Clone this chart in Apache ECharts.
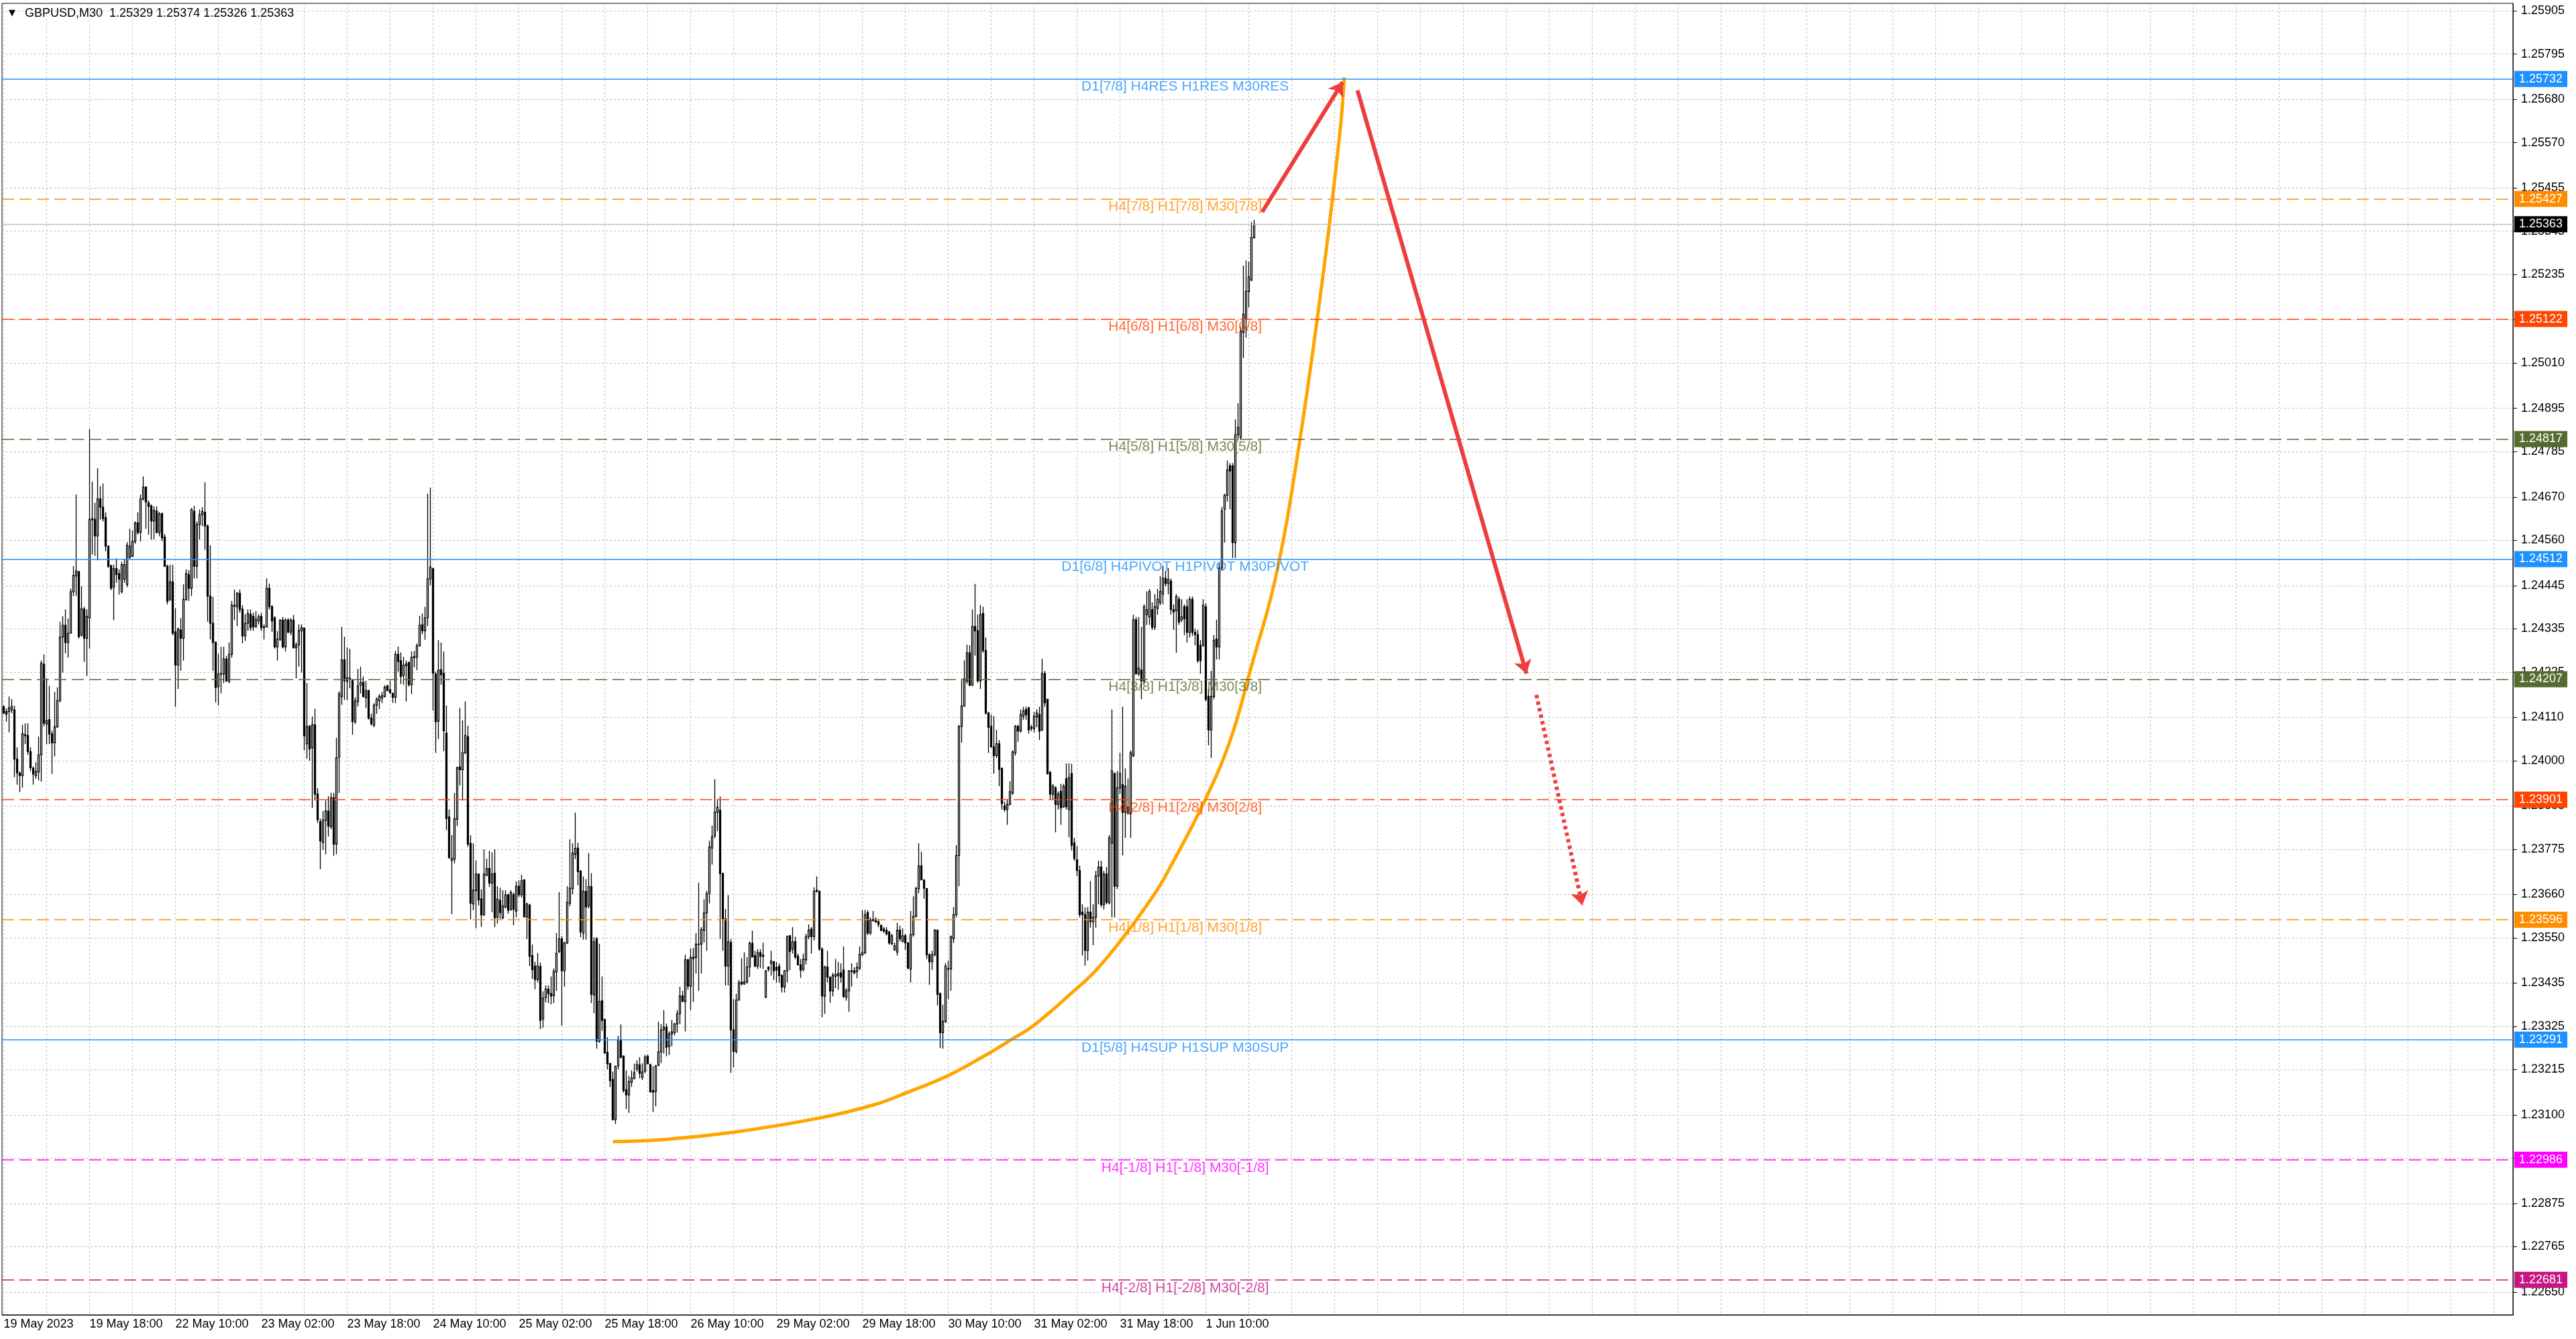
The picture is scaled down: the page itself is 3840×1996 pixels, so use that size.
<!DOCTYPE html>
<html><head><meta charset="utf-8">
<script src="https://cdn.jsdelivr.net/npm/echarts@6/dist/echarts.min.js"></script>
<style>html,body{margin:0;padding:0;background:#fff;overflow:hidden}#c{width:3840px;height:1996px}</style>
</head><body><div id="c"></div>
<script>
// ---- OHLC of GBPUSD M30, bar 0 = 19 May 2023 02:00 ----
const O=[1.24137,1.24125,1.24125,1.24129,1.24129,1.24004,1.23968,1.23962,1.24063,1.24064,
1.24023,1.23981,1.23962,1.23971,1.24015,1.24245,1.24093,1.24104,1.24068,1.24045,
1.24086,1.24153,1.24314,1.24344,1.24300,1.24324,1.24429,1.24469,1.24480,1.24319,
1.24385,1.24311,1.24363,1.24612,1.24613,1.24571,1.24665,1.24644,1.24618,1.24545,
1.24495,1.24441,1.24488,1.24475,1.24429,1.24461,1.24448,1.24517,1.24519,1.24557,
1.24604,1.24580,1.24665,1.24695,1.24655,1.24647,1.24609,1.24634,1.24580,1.24627,
1.24568,1.24494,1.24409,1.24454,1.24327,1.24243,1.24332,1.24311,1.24410,1.24473,
1.24438,1.24633,1.24494,1.24600,1.24625,1.24631,1.24596,1.24418,1.24349,1.24301,
1.24188,1.24220,1.24220,1.24258,1.24201,1.24270,1.24392,1.24391,1.24425,1.24385,
1.24317,1.24349,1.24372,1.24367,1.24340,1.24355,1.24367,1.24338,1.24340,1.24438,
1.24391,1.24363,1.24289,1.24308,1.24357,1.24289,1.24357,1.24327,1.24357,1.24287,
1.24294,1.24330,1.24337,1.24043,1.24087,1.24033,1.24091,1.23915,1.23845,1.23792,
1.23848,1.23872,1.23832,1.23906,1.23788,1.24009,1.24163,1.24256,1.24201,1.24209,
1.24203,1.24099,1.24150,1.24192,1.24199,1.24160,1.24178,1.24108,1.24090,1.24141,
1.24152,1.24159,1.24163,1.24190,1.24180,1.24171,1.24161,1.24270,1.24254,1.24216,
1.24241,1.24249,1.24193,1.24262,1.24263,1.24292,1.24345,1.24330,1.24363,1.24462,
1.24488,1.24220,1.24100,1.24231,1.24222,1.24070,1.23857,1.23746,1.23749,1.23851,
1.23984,1.23977,1.24020,1.24061,1.23790,1.23636,1.23670,1.23712,1.23649,1.23609,
1.23708,1.23726,1.23689,1.23714,1.23602,1.23645,1.23601,1.23628,1.23659,1.23622,
1.23660,1.23618,1.23681,1.23659,1.23697,1.23603,1.23633,1.23505,1.23478,1.23444,
1.23477,1.23344,1.23398,1.23419,1.23408,1.23403,1.23463,1.23515,1.23547,1.23466,
1.23537,1.23638,1.23675,1.23762,1.23778,1.23719,1.23562,1.23668,1.23631,1.23680,
1.23405,1.23547,1.23287,1.23390,1.23342,1.23259,1.23230,1.23190,1.23088,1.23225,
1.23290,1.23249,1.23164,1.23151,1.23183,1.23193,1.23217,1.23227,1.23195,1.23211,
1.23249,1.23228,1.23162,1.23159,1.23226,1.23260,1.23316,1.23323,1.23274,1.23306,
1.23309,1.23331,1.23357,1.23402,1.23388,1.23494,1.23427,1.23497,1.23500,1.23533,
1.23534,1.23569,1.23613,1.23663,1.23778,1.23809,1.23869,1.23874,1.23713,1.23598,
1.23478,1.23538,1.23316,1.23261,1.23392,1.23437,1.23433,1.23438,1.23476,1.23536,
1.23505,1.23478,1.23512,1.23503,1.23399,1.23475,1.23485,1.23489,1.23475,1.23477,
1.23454,1.23425,1.23466,1.23555,1.23521,1.23540,1.23503,1.23481,1.23470,1.23494,
1.23553,1.23572,1.23553,1.23671,1.23668,1.23521,1.23402,1.23476,1.23450,1.23415,
1.23452,1.23454,1.23461,1.23468,1.23399,1.23415,1.23464,1.23466,1.23464,1.23473,
1.23507,1.23512,1.23614,1.23562,1.23594,1.23597,1.23591,1.23581,1.23572,1.23569,
1.23565,1.23535,1.23519,1.23514,1.23569,1.23541,1.23555,1.23537,1.23470,1.23558,
1.23604,1.23675,1.23733,1.23696,1.23675,1.23507,1.23489,1.23507,1.23569,1.23408,
1.23309,1.23337,1.23470,1.23471,1.23548,1.23609,1.23759,1.24087,1.24139,1.24202,
1.24274,1.24192,1.24341,1.24330,1.24203,1.24374,1.24280,1.24121,1.24087,1.24035,
1.24013,1.24043,1.23980,1.23885,1.23876,1.23889,1.23918,1.24020,1.24087,1.24075,
1.24113,1.24130,1.24134,1.24082,1.24082,1.24111,1.24117,1.24078,1.24221,1.24156,
1.23970,1.23915,1.23931,1.23889,1.23922,1.23883,1.23954,1.23876,1.23967,1.23791,
1.23748,1.23721,1.23615,1.23609,1.23518,1.23615,1.23591,1.23602,1.23707,1.23730,
1.23634,1.23712,1.23639,1.23790,1.23967,1.23681,1.23930,1.23939,1.23869,1.23883,
1.23866,1.24013,1.24358,1.24221,1.24230,1.24202,1.24371,1.24365,1.24384,1.24339,
1.24387,1.24402,1.24423,1.24463,1.24450,1.24456,1.24384,1.24381,1.24410,1.24358,
1.24391,1.24391,1.24326,1.24410,1.24326,1.24320,1.24293,1.24293,1.24391,1.24163,
1.24078,1.24163,1.24309,1.24289,1.24489,1.24639,1.24674,1.24749,1.24749,1.24554,
1.24828,1.24821,1.25088,1.25121,1.25192,1.25221,1.25329];
const H=[1.24140,1.24133,1.24163,1.24156,1.24140,1.24034,1.23973,1.24091,1.24095,1.24095,
1.24034,1.23985,1.23996,1.24061,1.24254,1.24270,1.24209,1.24190,1.24076,1.24175,
1.24186,1.24353,1.24367,1.24384,1.24361,1.24437,1.24494,1.24676,1.24482,1.24443,
1.24391,1.24384,1.24842,1.24709,1.24655,1.24743,1.24697,1.24704,1.24631,1.24547,
1.24498,1.24498,1.24514,1.24486,1.24505,1.24513,1.24555,1.24589,1.24585,1.24608,
1.24631,1.24676,1.24722,1.24697,1.24661,1.24651,1.24646,1.24646,1.24632,1.24631,
1.24576,1.24498,1.24498,1.24498,1.24387,1.24338,1.24362,1.24448,1.24486,1.24484,
1.24642,1.24647,1.24608,1.24638,1.24644,1.24707,1.24600,1.24547,1.24416,1.24301,
1.24271,1.24289,1.24289,1.24266,1.24300,1.24406,1.24435,1.24429,1.24435,1.24395,
1.24372,1.24384,1.24384,1.24376,1.24380,1.24372,1.24375,1.24346,1.24463,1.24450,
1.24395,1.24367,1.24329,1.24359,1.24365,1.24362,1.24362,1.24362,1.24370,1.24300,
1.24346,1.24346,1.24338,1.24197,1.24091,1.24112,1.24132,1.23930,1.23853,1.23872,
1.23899,1.23910,1.23918,1.23918,1.24058,1.24176,1.24340,1.24315,1.24288,1.24284,
1.24207,1.24161,1.24233,1.24239,1.24214,1.24203,1.24180,1.24119,1.24146,1.24161,
1.24169,1.24175,1.24192,1.24193,1.24203,1.24173,1.24279,1.24290,1.24275,1.24264,
1.24254,1.24252,1.24277,1.24279,1.24298,1.24368,1.24374,1.24391,1.24678,1.24694,
1.24490,1.24226,1.24306,1.24300,1.24277,1.24140,1.23876,1.23811,1.23918,1.23985,
1.24134,1.24102,1.24150,1.24089,1.23810,1.23790,1.23747,1.23713,1.23673,1.23775,
1.23751,1.23771,1.23767,1.23775,1.23681,1.23677,1.23671,1.23671,1.23662,1.23671,
1.23665,1.23693,1.23696,1.23710,1.23699,1.23639,1.23636,1.23533,1.23489,1.23511,
1.23487,1.23414,1.23429,1.23429,1.23452,1.23472,1.23562,1.23666,1.23554,1.23540,
1.23681,1.23800,1.23790,1.23868,1.23792,1.23722,1.23706,1.23699,1.23765,1.23714,
1.23551,1.23552,1.23535,1.23452,1.23345,1.23297,1.23233,1.23210,1.23225,1.23301,
1.23330,1.23251,1.23213,1.23199,1.23213,1.23230,1.23239,1.23247,1.23231,1.23253,
1.23253,1.23230,1.23224,1.23227,1.23337,1.23331,1.23366,1.23332,1.23312,1.23341,
1.23334,1.23366,1.23426,1.23415,1.23507,1.23496,1.23523,1.23524,1.23562,1.23690,
1.23577,1.23648,1.23669,1.23796,1.23835,1.23953,1.23903,1.23909,1.23715,1.23623,
1.23658,1.23547,1.23394,1.23408,1.23443,1.23498,1.23513,1.23501,1.23541,1.23568,
1.23517,1.23521,1.23521,1.23538,1.23468,1.23478,1.23517,1.23491,1.23489,1.23485,
1.23457,1.23468,1.23556,1.23557,1.23577,1.23553,1.23510,1.23496,1.23510,1.23560,
1.23584,1.23577,1.23678,1.23706,1.23670,1.23526,1.23479,1.23517,1.23452,1.23461,
1.23496,1.23489,1.23485,1.23528,1.23422,1.23468,1.23485,1.23475,1.23487,1.23528,
1.23620,1.23621,1.23620,1.23602,1.23618,1.23602,1.23598,1.23584,1.23577,1.23577,
1.23567,1.23560,1.23538,1.23588,1.23581,1.23574,1.23560,1.23539,1.23618,1.23655,
1.23680,1.23790,1.23769,1.23699,1.23677,1.23511,1.23517,1.23572,1.23571,1.23411,
1.23380,1.23486,1.23492,1.23556,1.23628,1.23785,1.24091,1.24208,1.24255,1.24295,
1.24293,1.24384,1.24449,1.24371,1.24395,1.24391,1.24313,1.24124,1.24117,1.24113,
1.24078,1.24052,1.23983,1.23896,1.23902,1.23948,1.24026,1.24091,1.24091,1.24130,
1.24137,1.24137,1.24137,1.24091,1.24124,1.24130,1.24137,1.24259,1.24228,1.24156,
1.23974,1.23941,1.23935,1.23922,1.23941,1.23941,1.23993,1.23993,1.23992,1.23804,
1.23782,1.23733,1.23635,1.23628,1.23628,1.23694,1.23635,1.23720,1.23746,1.23746,
1.23720,1.23730,1.23811,1.24130,1.23970,1.23974,1.24020,1.24137,1.23980,1.23954,
1.24026,1.24371,1.24365,1.24365,1.24340,1.24397,1.24430,1.24436,1.24402,1.24423,
1.24436,1.24469,1.24495,1.24482,1.24489,1.24463,1.24397,1.24423,1.24417,1.24410,
1.24397,1.24410,1.24417,1.24417,1.24335,1.24332,1.24306,1.24410,1.24400,1.24182,
1.24228,1.24319,1.24358,1.24502,1.24645,1.24678,1.24762,1.24756,1.24756,1.24867,
1.24908,1.25101,1.25258,1.25271,1.25268,1.25368,1.25374];
const L=[1.24118,1.24099,1.24072,1.24121,1.23958,1.23939,1.23920,1.23932,1.24042,1.24015,
1.23973,1.23939,1.23954,1.23950,1.23947,1.24087,1.24042,1.24042,1.23966,1.24011,
1.24083,1.24148,1.24224,1.24273,1.24262,1.24323,1.24418,1.24418,1.24311,1.24315,
1.24251,1.24215,1.24285,1.24524,1.24520,1.24509,1.24612,1.24608,1.24532,1.24490,
1.24433,1.24357,1.24452,1.24422,1.24425,1.24452,1.24441,1.24513,1.24517,1.24551,
1.24574,1.24557,1.24661,1.24589,1.24574,1.24562,1.24562,1.24577,1.24570,1.24558,
1.24492,1.24397,1.24406,1.24319,1.24137,1.24182,1.24228,1.24254,1.24406,1.24406,
1.24418,1.24463,1.24463,1.24562,1.24596,1.24536,1.24353,1.24308,1.24228,1.24148,
1.24140,1.24171,1.24197,1.24200,1.24197,1.24262,1.24357,1.24342,1.24376,1.24298,
1.24304,1.24330,1.24330,1.24330,1.24338,1.24346,1.24330,1.24308,1.24338,1.24384,
1.24327,1.24285,1.24254,1.24304,1.24285,1.24277,1.24323,1.24319,1.24285,1.24209,
1.24239,1.24224,1.24026,1.24005,1.24000,1.23880,1.23899,1.23842,1.23724,1.23773,
1.23762,1.23807,1.23826,1.23758,1.23762,1.23918,1.24142,1.24154,1.24154,1.24184,
1.24066,1.24093,1.24138,1.24171,1.24161,1.24134,1.24104,1.24089,1.24085,1.24119,
1.24131,1.24146,1.24161,1.24176,1.24169,1.24147,1.24146,1.24226,1.24195,1.24193,
1.24150,1.24188,1.24169,1.24237,1.24230,1.24290,1.24321,1.24307,1.24342,1.24446,
1.24127,1.24020,1.24055,1.24193,1.24024,1.23823,1.23750,1.23610,1.23739,1.23834,
1.23937,1.23899,1.24017,1.23781,1.23597,1.23620,1.23574,1.23632,1.23578,1.23605,
1.23707,1.23679,1.23615,1.23577,1.23586,1.23598,1.23597,1.23625,1.23611,1.23618,
1.23582,1.23602,1.23654,1.23652,1.23602,1.23547,1.23478,1.23446,1.23419,1.23437,
1.23318,1.23321,1.23386,1.23384,1.23381,1.23384,1.23415,1.23511,1.23327,1.23426,
1.23534,1.23630,1.23660,1.23750,1.23683,1.23551,1.23545,1.23545,1.23625,1.23384,
1.23358,1.23268,1.23283,1.23314,1.23256,1.23216,1.23171,1.23086,1.23077,1.23216,
1.23244,1.23156,1.23115,1.23105,1.23171,1.23190,1.23210,1.23193,1.23189,1.23206,
1.23228,1.23156,1.23107,1.23122,1.23224,1.23232,1.23256,1.23249,1.23252,1.23274,
1.23302,1.23309,1.23331,1.23387,1.23312,1.23418,1.23366,1.23387,1.23459,1.23415,
1.23459,1.23538,1.23517,1.23637,1.23736,1.23803,1.23821,1.23547,1.23517,1.23429,
1.23429,1.23207,1.23221,1.23256,1.23390,1.23429,1.23430,1.23433,1.23450,1.23500,
1.23475,1.23471,1.23473,1.23471,1.23397,1.23464,1.23454,1.23443,1.23436,1.23436,
1.23411,1.23411,1.23437,1.23468,1.23510,1.23496,1.23480,1.23448,1.23464,1.23482,
1.23546,1.23510,1.23543,1.23665,1.23517,1.23348,1.23357,1.23437,1.23385,1.23401,
1.23422,1.23418,1.23436,1.23397,1.23390,1.23362,1.23426,1.23457,1.23447,1.23468,
1.23503,1.23508,1.23557,1.23557,1.23591,1.23588,1.23577,1.23567,1.23562,1.23556,
1.23533,1.23531,1.23517,1.23505,1.23541,1.23538,1.23519,1.23470,1.23436,1.23553,
1.23602,1.23663,1.23696,1.23649,1.23496,1.23430,1.23468,1.23503,1.23378,1.23270,
1.23268,1.23334,1.23394,1.23415,1.23537,1.23602,1.23681,1.24046,1.24137,1.24195,
1.24189,1.24189,1.24267,1.24198,1.24182,1.24274,1.24117,1.24020,1.24033,1.23967,
1.24007,1.23935,1.23876,1.23870,1.23837,1.23887,1.23913,1.24013,1.24048,1.24072,
1.24104,1.24104,1.24069,1.24075,1.24072,1.24085,1.24052,1.24075,1.24137,1.23965,
1.23902,1.23902,1.23818,1.23876,1.23837,1.23880,1.23876,1.23805,1.23772,1.23746,
1.23707,1.23602,1.23505,1.23479,1.23492,1.23576,1.23531,1.23576,1.23635,1.23628,
1.23622,1.23635,1.23635,1.23602,1.23602,1.23674,1.23915,1.23759,1.23804,1.23863,
1.23804,1.24009,1.24218,1.24215,1.24156,1.24195,1.24345,1.24345,1.24332,1.24332,
1.24371,1.24395,1.24397,1.24443,1.24423,1.24371,1.24332,1.24274,1.24345,1.24352,
1.24319,1.24300,1.24313,1.24317,1.24293,1.24248,1.24221,1.24289,1.24150,1.24039,
1.24007,1.24156,1.24257,1.24257,1.24482,1.24554,1.24658,1.24639,1.24515,1.24515,
1.24814,1.24814,1.25023,1.25075,1.25151,1.25218,1.25326];
const C=[1.24121,1.24118,1.24134,1.24137,1.24004,1.23969,1.23962,1.24068,1.24066,1.24023,
1.23982,1.23966,1.23973,1.24015,1.24247,1.24095,1.24102,1.24068,1.24045,1.24086,
1.24153,1.24314,1.24344,1.24300,1.24324,1.24429,1.24471,1.24482,1.24315,1.24386,
1.24311,1.24367,1.24613,1.24615,1.24571,1.24665,1.24644,1.24615,1.24545,1.24494,
1.24438,1.24488,1.24473,1.24461,1.24498,1.24498,1.24547,1.24545,1.24557,1.24604,
1.24580,1.24665,1.24695,1.24657,1.24646,1.24609,1.24636,1.24580,1.24627,1.24566,
1.24494,1.24405,1.24454,1.24324,1.24243,1.24334,1.24311,1.24410,1.24475,1.24438,
1.24638,1.24494,1.24600,1.24625,1.24633,1.24596,1.24418,1.24349,1.24300,1.24186,
1.24220,1.24221,1.24258,1.24203,1.24270,1.24395,1.24395,1.24425,1.24384,1.24317,
1.24349,1.24374,1.24338,1.24340,1.24359,1.24365,1.24338,1.24340,1.24438,1.24391,
1.24355,1.24289,1.24309,1.24357,1.24289,1.24357,1.24327,1.24357,1.24287,1.24294,
1.24330,1.24338,1.24063,1.24087,1.24030,1.24091,1.23915,1.23850,1.23796,1.23849,
1.23872,1.23834,1.23906,1.23788,1.24007,1.24170,1.24256,1.24203,1.24211,1.24208,
1.24099,1.24152,1.24190,1.24199,1.24163,1.24178,1.24108,1.24094,1.24141,1.24156,
1.24163,1.24165,1.24186,1.24178,1.24173,1.24161,1.24270,1.24252,1.24214,1.24243,
1.24246,1.24193,1.24263,1.24264,1.24292,1.24344,1.24330,1.24363,1.24462,1.24492,
1.24222,1.24099,1.24230,1.24218,1.24076,1.23853,1.23754,1.23752,1.23853,1.23982,
1.23977,1.24020,1.24064,1.23788,1.23638,1.23671,1.23712,1.23646,1.23608,1.23712,
1.23726,1.23689,1.23712,1.23601,1.23648,1.23614,1.23631,1.23659,1.23620,1.23665,
1.23622,1.23681,1.23659,1.23695,1.23603,1.23636,1.23503,1.23469,1.23444,1.23478,
1.23340,1.23397,1.23420,1.23408,1.23402,1.23465,1.23511,1.23547,1.23466,1.23537,
1.23640,1.23676,1.23765,1.23777,1.23718,1.23565,1.23668,1.23628,1.23680,1.23406,
1.23540,1.23287,1.23388,1.23340,1.23257,1.23230,1.23187,1.23088,1.23223,1.23290,
1.23246,1.23162,1.23151,1.23185,1.23194,1.23207,1.23228,1.23206,1.23209,1.23247,
1.23230,1.23159,1.23158,1.23224,1.23260,1.23316,1.23323,1.23272,1.23306,1.23311,
1.23331,1.23357,1.23402,1.23388,1.23494,1.23427,1.23500,1.23501,1.23534,1.23534,
1.23571,1.23613,1.23662,1.23781,1.23807,1.23869,1.23881,1.23713,1.23598,1.23478,
1.23540,1.23316,1.23261,1.23392,1.23436,1.23433,1.23438,1.23476,1.23536,1.23501,
1.23478,1.23512,1.23503,1.23506,1.23466,1.23470,1.23491,1.23466,1.23468,1.23454,
1.23425,1.23466,1.23553,1.23515,1.23540,1.23501,1.23481,1.23468,1.23496,1.23553,
1.23569,1.23553,1.23668,1.23668,1.23521,1.23402,1.23476,1.23450,1.23415,1.23454,
1.23457,1.23459,1.23450,1.23401,1.23416,1.23466,1.23466,1.23461,1.23475,1.23508,
1.23512,1.23609,1.23562,1.23595,1.23596,1.23590,1.23584,1.23569,1.23567,1.23560,
1.23537,1.23555,1.23530,1.23569,1.23548,1.23555,1.23537,1.23473,1.23558,1.23604,
1.23675,1.23733,1.23697,1.23676,1.23507,1.23489,1.23507,1.23569,1.23406,1.23309,
1.23338,1.23478,1.23471,1.23553,1.23609,1.23759,1.24087,1.24139,1.24208,1.24274,
1.24192,1.24341,1.24330,1.24203,1.24371,1.24280,1.24121,1.24085,1.24035,1.24013,
1.24043,1.23978,1.23891,1.23876,1.23889,1.23921,1.24022,1.24087,1.24075,1.24117,
1.24126,1.24117,1.24078,1.24085,1.24113,1.24121,1.24075,1.24221,1.24147,1.23967,
1.23915,1.23935,1.23889,1.23915,1.23880,1.23935,1.23883,1.23957,1.23785,1.23751,
1.23721,1.23609,1.23609,1.23518,1.23615,1.23591,1.23602,1.23707,1.23730,1.23634,
1.23712,1.23640,1.23804,1.23974,1.23681,1.23931,1.23967,1.23869,1.23935,1.23866,
1.24020,1.24358,1.24221,1.24235,1.24202,1.24391,1.24384,1.24430,1.24339,1.24391,
1.24410,1.24430,1.24463,1.24450,1.24460,1.24384,1.24378,1.24417,1.24352,1.24365,
1.24361,1.24326,1.24410,1.24326,1.24320,1.24254,1.24254,1.24395,1.24156,1.24078,
1.24163,1.24306,1.24289,1.24489,1.24635,1.24674,1.24739,1.24736,1.24554,1.24828,
1.24847,1.25091,1.25134,1.25192,1.25229,1.25329,1.25363];

// ---- axes ----
const timeLabels=["19 May 2023","19 May 18:00","22 May 10:00","23 May 02:00","23 May 18:00","24 May 10:00","25 May 02:00","25 May 18:00","26 May 10:00","29 May 02:00","29 May 18:00","30 May 10:00","31 May 02:00","31 May 18:00","1 Jun 10:00"];
const timeLabelBars=[0,32,64,96,128,160,192,224,256,288,320,352,384,416,448];
const gridBars=[0,16,32,48,64,80,96,112,128,144,160,176,192,208,224,240,256,272,288,304,320,336,352,368,384,400,416,432,448,464,480,496,512,528,544,560,576,592,608,624,640,656,672,688,704,720,736,752,768,784,800,816,832,848,864,880,896,912,928];
const priceTickLabels=["1.25905","1.25795","1.25680","1.25570","1.25455","1.25345","1.25235","1.25120","1.25010","1.24895","1.24785","1.24670","1.24560","1.24445","1.24335","1.24225","1.24110","1.24000","1.23885","1.23775","1.23660","1.23550","1.23435","1.23325","1.23215","1.23100","1.22990","1.22875","1.22765","1.22650"];

// ---- Murrey levels ----
const levelPrices=[1.25732,1.25427,1.25122,1.24817,1.24512,1.24207,1.23901,1.23596,1.23291,1.22986,1.22681];
const levelTexts=["D1[7/8] H4RES H1RES M30RES","H4[7/8] H1[7/8] M30[7/8]","H4[6/8] H1[6/8] M30[6/8]","H4[5/8] H1[5/8] M30[5/8]","D1[6/8] H4PIVOT H1PIVOT M30PIVOT","H4[3/8] H1[3/8] M30[3/8]","H4[2/8] H1[2/8] M30[2/8]","H4[1/8] H1[1/8] M30[1/8]","D1[5/8] H4SUP H1SUP M30SUP","H4[-1/8] H1[-1/8] M30[-1/8]","H4[-2/8] H1[-2/8] M30[-2/8]"];
const levelTextBar=440.3;
const currentPrice=1.25363;

// ---- drawn objects ----
const curveBars=[227,245,272,304,324,336,352,366,375.4,384,398,407,418,428.75,433.75,447,457,465,474,482.5,491.5,498,499.6];
const curvePrices=[1.23032,1.23037,1.23056,1.23092,1.23125,1.23155,1.23200,1.23252,1.23291,1.23328,1.23410,1.23467,1.23558,1.23660,1.23717,1.23890,1.24050,1.24240,1.24465,1.24790,1.25224,1.25598,1.25736];
const arrowFrom=[[469,1.25394],[504.5,1.25703],[571.2,1.24167]];
const arrowTo=[[499,1.25724],[567.5,1.24221],[588.3,1.23633]];

// ---- styles ----
const levelColors=["#1e90ff","#ff8c00","#ff4500","#556b2f","#1e90ff","#556b2f","#ff4500","#ff8c00","#1e90ff","#ff00ff","#c71585"];
const levelSolid=[true,false,false,false,true,false,false,false,true,false,false];
const arrowDotted=[false,false,true];
const FONT="'Liberation Sans', Arial, sans-serif";

const candles=O.map((o,i)=>[i,o,C[i],L[i],H[i]]);
const n=O.length-1;
const header=`GBPUSD,M30  ${O[n].toFixed(5)} ${H[n].toFixed(5)} ${L[n].toFixed(5)} ${C[n].toFixed(5)}`;

const tagLabel=(txt,bg)=>({show:true,position:'end',distance:2,formatter:txt,color:'#fff',backgroundColor:bg,
    padding:[3,7,3,7],fontSize:18,lineHeight:18,fontFamily:FONT});
const levelLines=levelPrices.map((p,i)=>({
  yAxis:p,
  lineStyle:{color:levelColors[i],width:1.6,type:levelSolid[i]?'solid':[18,8]},
  label:tagLabel(p.toFixed(5),levelColors[i])
}));
levelLines.push({yAxis:currentPrice,lineStyle:{color:'#c0c0c0',width:1.4,type:'solid'},
  label:tagLabel(currentPrice.toFixed(5),'#000')});

const arrowLines=arrowFrom.map((f,i)=>[
  {coord:f,lineStyle:{color:'#f03c3c',width:6,type:arrowDotted[i]?[5,5]:'solid'}},
  {coord:arrowTo[i]}
]);

const chart=echarts.init(document.getElementById('c'),null,{renderer:'canvas'});
chart.setOption({
  animation:false,
  backgroundColor:'#ffffff',
  title:{left:8,top:6,text:'{t|▼}{s|'+header+'}',
    textStyle:{fontWeight:'normal',rich:{t:{fontSize:13,width:24,color:'#000',fontFamily:'DejaVu Sans',fontWeight:'normal'},
      s:{fontSize:18,color:'#000',fontFamily:FONT,fontWeight:'normal'}}}},
  grid:{left:3,right:94,top:5,bottom:36,show:true,borderColor:'#000',borderWidth:1,backgroundColor:'#fff'},
  xAxis:{type:'value',min:-0.625,max:935.125,
    axisLine:{show:true,onZero:false,lineStyle:{color:'#000',width:1}},
    axisTick:{show:false,customValues:gridBars},
    axisLabel:{customValues:timeLabelBars,formatter:v=>timeLabels[timeLabelBars.indexOf(v)],align:'left',
      margin:5,fontSize:18,color:'#000',fontFamily:FONT,showMinLabel:true,showMaxLabel:true,hideOverlap:false},
    splitLine:{show:true,lineStyle:{color:'#c0c0c0',width:1,type:[3,3]}}},
  yAxis:{type:'value',position:'right',min:1.22592,max:1.25924,
    axisLine:{show:true,onZero:false,lineStyle:{color:'#000',width:1}},
    axisTick:{show:true,length:6,customValues:priceTickLabels.map(Number),lineStyle:{color:'#000'}},
    axisLabel:{customValues:priceTickLabels.map(Number),formatter:v=>v.toFixed(5),margin:12,fontSize:18,color:'#000',fontFamily:FONT},
    splitLine:{show:true,lineStyle:{color:'#c0c0c0',width:1,type:[3,3]}}},
  series:[
    {type:'line',name:'levels',data:[],z:1,silent:true,
      markLine:{silent:true,symbol:'none',precision:5,animation:false,data:levelLines}},
    {type:'candlestick',name:'GBPUSD',data:candles,z:2,barWidth:3,
      itemStyle:{color:'#ffffff',color0:'#000000',borderColor:'#000000',borderColor0:'#000000',borderColorDoji:'#000000',borderWidth:1.3}},
    {type:'line',name:'curve',data:curveBars.map((b,i)=>[b,curvePrices[i]]),smooth:0.4,symbol:'none',z:4,
      lineStyle:{color:'#ffa500',width:5}},
    {type:'line',name:'arrows',data:[],z:5,silent:true,
      markLine:{silent:true,symbol:['none','arrow'],symbolSize:20,precision:5,animation:false,label:{show:false},data:arrowLines}},
    {type:'scatter',name:'levelText',z:6,symbolSize:1,itemStyle:{color:'rgba(0,0,0,0)'},silent:true,
      data:levelPrices.map((p,i)=>({value:[levelTextBar,p],
        label:{show:true,position:'bottom',distance:1,formatter:levelTexts[i],color:levelColors[i],fontSize:21,fontFamily:FONT}}))}
  ]
});
</script></body></html>
